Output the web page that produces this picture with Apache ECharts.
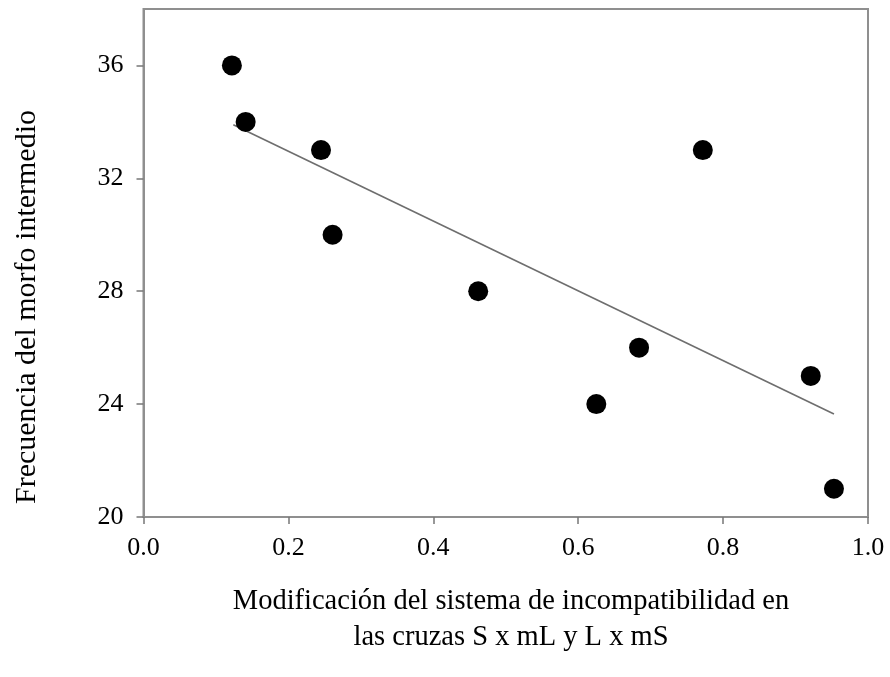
<!DOCTYPE html>
<html>
<head>
<meta charset="utf-8">
<script src="https://cdn.jsdelivr.net/npm/echarts@6/dist/echarts.min.js"></script>
<style>html,body{margin:0;padding:0;background:#fff}#c{width:890px;height:677px}</style>
</head>
<body>
<div id="c"></div>
<script>
// Data
var xValues = [0.122, 0.141, 0.245, 0.261, 0.462, 0.625, 0.684, 0.772, 0.921, 0.953];
var yValues = [36, 34, 33, 30, 28, 24, 26, 33, 25, 21];
var trendX = [0.124, 0.953];
var trendY = [33.9, 23.65];
var xTitle = ['Modificación del sistema de incompatibilidad en', 'las cruzas S x mL y L x mS'];
var yTitle = 'Frecuencia del morfo intermedio';

var FONT = '"Liberation Serif", "Times New Roman", serif';
var chart = echarts.init(document.getElementById('c'), null, {renderer: 'canvas'});
var pts = xValues.map(function (x, i) { return [x, yValues[i]]; });
var trend = trendX.map(function (x, i) { return [x, trendY[i]]; });

chart.setOption({
  animation: false,
  backgroundColor: '#fff',
  grid: {left: 143.5, right: 22, top: 9, bottom: 160, show: true, borderColor: '#8f8f8f', borderWidth: 2},
  xAxis: {
    type: 'value', min: 0, max: 1, interval: 0.2,
    splitLine: {show: false},
    axisLine: {show: true, lineStyle: {color: '#8f8f8f', width: 2}},
    axisTick: {show: true, inside: false, length: 7, lineStyle: {color: '#777', width: 1.5}},
    axisLabel: {color: '#000', fontFamily: FONT, fontSize: 26, margin: 18,
      formatter: function (v) { return v.toFixed(1); }}
  },
  yAxis: {
    type: 'value', min: 20, max: 38, interval: 4,
    splitLine: {show: false},
    axisLine: {show: true, lineStyle: {color: '#8f8f8f', width: 2}},
    axisTick: {show: true, inside: false, length: 7, lineStyle: {color: '#777', width: 1.5}},
    axisLabel: {color: '#000', fontFamily: FONT, fontSize: 26, margin: 20, showMaxLabel: false,
      formatter: function (v) { return v === 38 ? '' : String(v); }}
  },
  series: [
    {type: 'line', data: trend, symbol: 'none', lineStyle: {color: '#6e6e6e', width: 1.6}, z: 2},
    {type: 'scatter', data: pts, symbol: 'circle', symbolSize: 20, itemStyle: {color: '#000', opacity: 1}, z: 3}
  ],
  graphic: [
    {type: 'text', x: 27, y: 307, rotation: Math.PI / 2,
      style: {text: yTitle, font: '30px ' + FONT, fill: '#000', textAlign: 'center', textVerticalAlign: 'middle'}},
    {type: 'text', x: 511, y: 602,
      style: {text: xTitle[0], font: '28.5px ' + FONT, fill: '#000', textAlign: 'center', textVerticalAlign: 'middle'}},
    {type: 'text', x: 511, y: 638,
      style: {text: xTitle[1], font: '28.5px ' + FONT, fill: '#000', textAlign: 'center', textVerticalAlign: 'middle'}}
  ]
});
</script>
</body>
</html>
